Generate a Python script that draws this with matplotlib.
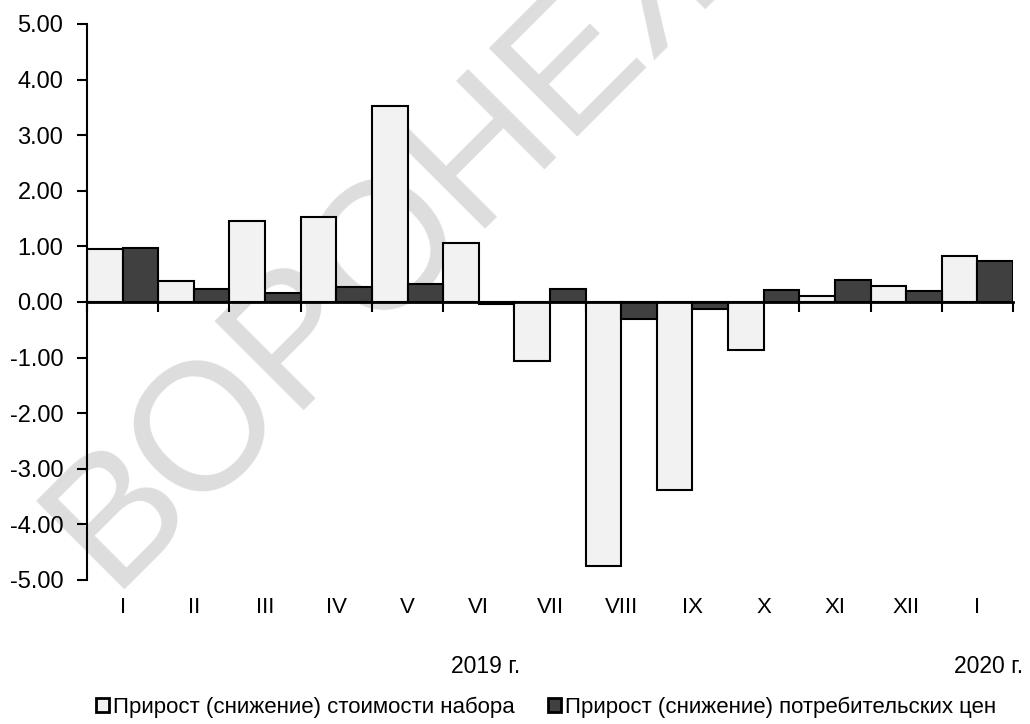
import matplotlib
matplotlib.use("Agg")
import matplotlib.pyplot as plt
import matplotlib.patches as mpatches
import matplotlib.transforms as mtransforms
import numpy as np

plt.rcParams['font.family'] = ['Liberation Sans', 'DejaVu Sans']

months = ["I", "II", "III", "IV", "V", "VI", "VII", "VIII", "IX", "X", "XI", "XII", "I"]
basket = [0.95, 0.37, 1.46, 1.52, 3.53, 1.06, -1.06, -4.75, -3.38, -0.87, 0.10, 0.28, 0.82]
cpi    = [0.98, 0.23, 0.17, 0.27, 0.32, -0.03, 0.23, -0.30, -0.12, 0.21, 0.40, 0.20, 0.74]
yticks = [-5, -4, -3, -2, -1, 0, 1, 2, 3, 4, 5]
label_basket = "Прирост (снижение) стоимости набора"
label_cpi = "Прирост (снижение) потребительских цен"

LIGHT = "#f2f2f2"
DARK = "#404040"

fig = plt.figure(figsize=(10.3, 7.24), dpi=100)
ax = fig.add_axes([87 / 1030, 1 - 580 / 724, (1013 - 87) / 1030, (580 - 24) / 724])
ax.set_facecolor("none")

# watermark, drawn under the axes
fig.text(110 / 1030, 1 - 590 / 724, "ВОРОНЕЖ", rotation=45, rotation_mode="anchor",
         ha="left", va="baseline", fontsize=130, color="#dddddd", zorder=-1)

x = np.arange(len(months))
w = 0.5
ax.bar(x - w / 2, basket, w, color=LIGHT, edgecolor="black", linewidth=1.5, zorder=2)
ax.bar(x + w / 2, cpi, w, color=DARK, edgecolor="black", linewidth=1.5, zorder=2)

ax.set_xlim(-0.5, len(months) - 0.5)
ax.set_ylim(-5, 5)
ax.set_yticks(yticks)
ax.set_yticklabels([f"{v:.2f}" for v in yticks], fontsize=17)
ax.tick_params(axis="y", direction="out", length=7, width=1.5, pad=10)

ax.spines["top"].set_visible(False)
ax.spines["right"].set_visible(False)
ax.spines["left"].set_linewidth(1.5)
ax.spines["bottom"].set_linewidth(2)
ax.spines["bottom"].set_position(("data", 0))
ax.spines["bottom"].set_zorder(3)
ax.set_xticks(np.arange(len(months) + 1) - 0.5)
ax.tick_params(axis="x", direction="out", length=7, width=1.5, labelbottom=False)

trans = mtransforms.blended_transform_factory(ax.transData, ax.transAxes)
for i, m in enumerate(months):
    ax.text(i, -0.05, m, transform=trans, ha="center", va="center", fontsize=16)

ax.text(5.1, -0.155, "2019 г.", transform=trans, ha="center", va="center", fontsize=16.5)
ax.text(12.15, -0.155, "2020 г.", transform=trans, ha="center", va="center", fontsize=16.5)

handles = [
    mpatches.Patch(facecolor=LIGHT, edgecolor="black", linewidth=2, label=label_basket),
    mpatches.Patch(facecolor=DARK, edgecolor="black", linewidth=2, label=label_cpi),
]
fig.legend(handles=handles, loc="lower center", bbox_to_anchor=(0.53, -0.019), ncol=2,
           frameon=False, fontsize=16, handlelength=0.6, handleheight=0.6,
           handletextpad=0.15, columnspacing=1.5)

fig.savefig("out.png", dpi=100)
